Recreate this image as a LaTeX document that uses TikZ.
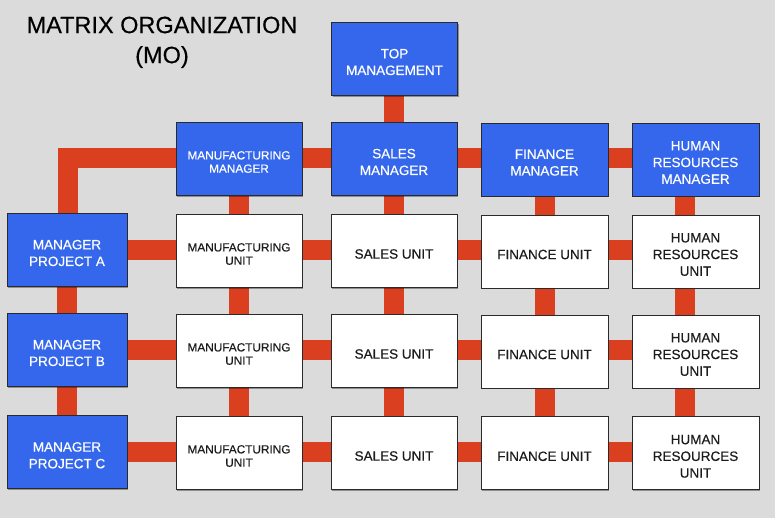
\documentclass[tikz,border=0pt]{standalone}
\usepackage{fontspec}
\setmainfont{Liberation Sans}[FakeBold=0.35]
\usetikzlibrary{shadows,backgrounds}
\definecolor{bg}{HTML}{DBDBDB}
\definecolor{mblue}{HTML}{3467EC}
\definecolor{mred}{HTML}{DA3F1F}
\definecolor{edge}{HTML}{2A2A2A}
\definecolor{ink}{HTML}{1C1C1C}
\begin{document}
\begin{tikzpicture}[x=1pt,y=-1pt,
  box/.style={draw=edge, line width=0.8pt, minimum width=126pt, minimum height=73pt,
    inner sep=0pt,
    drop shadow={shadow xshift=1.2pt, shadow yshift=-1.2pt, opacity=0.35, fill=black}},
  mgr/.style={box, fill=mblue},
  unit/.style={box, fill=white},
  big/.style={font=\fontsize{13.5}{16.7}\selectfont},
  small/.style={font=\fontsize{11.8}{13.3}\selectfont},
  txt/.style={inner sep=0pt, align=center, yshift=-3pt},
  mlab/.style={label={[txt,big,text=white]center:#1}},
  mlabs/.style={label={[txt,small,text=white]center:#1}},
  ulab/.style={label={[txt,big,text=ink]center:#1}},
  ulabs/.style={label={[txt,small,text=ink]center:#1}},
  bar/.style={draw=mred, line width=20pt, line join=miter, line cap=butt}]
\useasboundingbox (0,0) rectangle (775,518);

% title
\node[anchor=north, inner sep=0pt, align=center, text=black,
  font=\fontsize{23.5}{30}\selectfont] (title) at (162,16.5) {MATRIX ORGANIZATION\\(MO)};

% top row
\node[mgr,mlab={TOP\\MANAGEMENT}] (top) at (394.5,59) {};
\node[mgr,mlabs={MANUFACTURING\\MANAGER}] (mfgM) at (239,159) {};
\node[mgr,mlab={SALES\\MANAGER}] (salM) at (394,159) {};
\node[mgr,minimum width=127pt,mlab={FINANCE\\MANAGER}] (finM) at (544.5,159.5) {};
\node[mgr,minimum width=127pt,mlab={HUMAN\\RESOURCES\\MANAGER}] (hrM) at (695.5,159.5) {};

% project managers
\node[mgr,minimum width=120pt,mlab={MANAGER\\PROJECT A}] (pA) at (67,250) {};
\node[mgr,minimum width=120pt,mlab={MANAGER\\PROJECT B}] (pB) at (67,350) {};
\node[mgr,minimum width=120pt,mlab={MANAGER\\PROJECT C}] (pC) at (67,452.3) {};

% units row A
\node[unit,ulabs={MANUFACTURING\\UNIT}] (mfgA) at (239,251) {};
\node[unit,ulab={SALES UNIT}] (salA) at (394,251) {};
\node[unit,minimum width=127pt,ulab={FINANCE UNIT}] (finA) at (544.5,251.5) {};
\node[unit,minimum width=127pt,ulab={HUMAN\\RESOURCES\\UNIT}] (hrA) at (695.5,251.5) {};
% units row B
\node[unit,ulabs={MANUFACTURING\\UNIT}] (mfgB) at (239,351) {};
\node[unit,ulab={SALES UNIT}] (salB) at (394,351) {};
\node[unit,minimum width=127pt,ulab={FINANCE UNIT}] (finB) at (544.5,351.5) {};
\node[unit,minimum width=127pt,ulab={HUMAN\\RESOURCES\\UNIT}] (hrB) at (695.5,351.5) {};
% units row C
\node[unit,ulabs={MANUFACTURING\\UNIT}] (mfgC) at (239,453) {};
\node[unit,ulab={SALES UNIT}] (salC) at (394,453) {};
\node[unit,minimum width=127pt,ulab={FINANCE UNIT}] (finC) at (544.5,453.3) {};
\node[unit,minimum width=127pt,ulab={HUMAN\\RESOURCES\\UNIT}] (hrC) at (695.5,453.3) {};

\begin{scope}[on background layer]
  \fill[bg] (0,0) rectangle (775,518);
  % vertical bars
  \draw[bar] ([xshift=-0.5pt]salM.center) -- ([xshift=-0.5pt]salM.center |- top.center);
  \draw[bar] (pA.center) -- (pC.center);
  \draw[bar] ([xshift=-0.5pt]mfgM.center) -- ([xshift=-0.5pt]mfgC.center);
  \draw[bar] ([xshift=-0.5pt]salM.center) -- ([xshift=-0.5pt]salC.center);
  \draw[bar] (finM.center) -- (finC.center);
  \draw[bar] ([xshift=-11pt]hrM.center) -- ([xshift=-11pt]hrC.center);
  % manager row with the L from project A
  \draw[bar] ([xshift=0.8pt]pA.center) |- ([yshift=1.5pt]hrM.center);
  % horizontal rows
  \draw[bar] (pA.center) -- (pA.center -| hrA.center);
  \draw[bar] (pB.center) -- (pB.center -| hrB.center);
  \draw[bar] (pC.center) -- (pC.center -| hrC.center);
\end{scope}
\end{tikzpicture}
\end{document}
